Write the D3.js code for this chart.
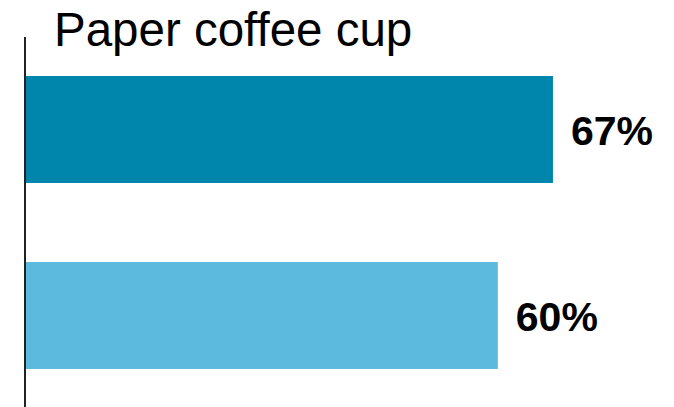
<!DOCTYPE html>
<html>
<head>
<meta charset="utf-8">
<script src="https://cdn.jsdelivr.net/npm/d3@7"></script>
<style>
  html, body { margin: 0; padding: 0; background: #fff; }
  svg { display: block; }
  text { font-family: "Liberation Sans", Arial, sans-serif; }
</style>
</head>
<body>
<div id="chart"></div>
<script>
// chart data
const title = "Paper coffee cup";
const categories = ["A", "B"];
const values = [67, 60];
const colors = ["#0086ad", "#5bbadd"];

const width = 674, height = 407;

const svg = d3.select("#chart").append("svg")
  .attr("width", width)
  .attr("height", height);

// 1% = ~7.88px
const x = d3.scaleLinear()
  .domain([0, 100])
  .range([25, 25 + 788]);

const y = d3.scaleBand()
  .domain(categories)
  .range([76, 369])
  .paddingInner(0.425)
  .paddingOuter(0);

// title
svg.append("text")
  .attr("x", 54)
  .attr("y", 46)
  .attr("font-size", 47.5)
  .attr("fill", "#000")
  .text(title);

// bars
svg.selectAll("rect.bar")
  .data(values)
  .enter().append("rect")
  .attr("class", "bar")
  .attr("x", x(0))
  .attr("y", (d, i) => y(categories[i]))
  .attr("width", d => x(d) - x(0))
  .attr("height", y.bandwidth())
  .attr("fill", (d, i) => colors[i]);

// value labels
svg.selectAll("text.label")
  .data(values)
  .enter().append("text")
  .attr("class", "label")
  .attr("x", d => x(d) + 18)
  .attr("y", (d, i) => y(categories[i]) + y.bandwidth() / 2 + 15.5)
  .attr("font-size", 41)
  .attr("font-weight", "bold")
  .attr("fill", "#000")
  .text(d => d + "%");

// vertical axis line
svg.append("line")
  .attr("x1", x(0))
  .attr("x2", x(0))
  .attr("y1", 37)
  .attr("y2", height)
  .attr("stroke", "#222")
  .attr("stroke-width", 2);
</script>
</body>
</html>
